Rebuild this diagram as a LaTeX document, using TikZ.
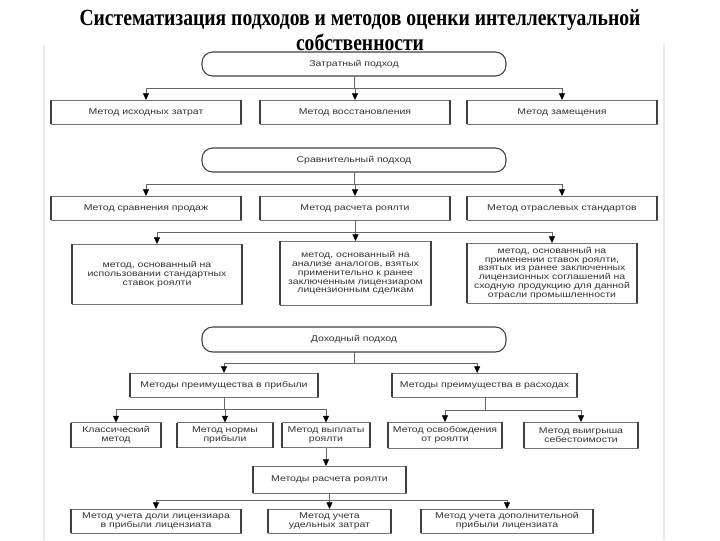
\documentclass[tikz,border=0pt]{standalone}
\usepackage{fontspec}
\setmainfont{Liberation Sans}
\newfontfamily\titlefont{Liberation Serif}[FakeStretch=0.85]
\newfontfamily\boxfont{Liberation Sans}[FakeStretch=1.25]
\usetikzlibrary{arrows.meta}
\begin{document}
\begin{tikzpicture}[x=0.75pt,y=-0.75pt,
  every node/.style={inner sep=0pt,outer sep=0pt},
  bx/.style n args={2}{draw=black!55,line width=0.45pt,
    minimum width=#1*0.75pt,minimum height=#2*0.75pt,align=center,
    font=\boxfont\fontsize{6.3}{6.6}\selectfont,text=black!80},
  rbx/.style n args={2}{bx={#1}{#2},draw=black!75,line width=0.8pt,rounded corners=8pt},
  side/.style={draw=black!75,line width=1.1pt},
  tl/.style={font=\titlefont\bfseries\fontsize{17.3}{19}\selectfont,anchor=base},
  conn/.style={draw=black!60,line width=0.55pt},
  arr/.style={conn,-{Triangle[length=5pt,width=4.5pt,color=black]}},
  frame/.style={draw=black!9}
]
\useasboundingbox (0,0) rectangle (720,540);
\fill[white] (0,0) rectangle (720,540);
\draw[frame,line width=0.8pt] (44,45) -- (44,540);
\draw[frame,line width=1.6pt] (664,45) -- (664,540);

\node[tl] (t1) at (360,25) {Систематизация подходов и методов оценки интеллектуальной};
\node[tl] (t2) at (360,50) {собственности};

% Затратный подход
\node[rbx={304}{24}] (z) at (354,64) {Затратный подход};
\node[bx={190}{24}] (z1) at (146,112) {Метод исходных затрат};
\node[bx={190}{24}] (z2) at (355,112) {Метод восстановления};
\node[bx={190}{24}] (z3) at (562,112) {Метод замещения};
\draw[conn] (z.south) -- ++(0,12) coordinate (zb);
\foreach \c in {z1,z2,z3} \draw[arr] (zb) -| (\c.north);

% Сравнительный подход
\node[rbx={304}{24}] (s) at (354,160) {Сравнительный подход};
\node[bx={190}{24}] (s1) at (146,208) {Метод сравнения продаж};
\node[bx={190}{24}] (s2) at (355,208) {Метод расчета роялти};
\node[bx={190}{24}] (s3) at (562,208) {Метод отраслевых стандартов};
\draw[conn] (s.south) -- ++(0,12) coordinate (sb);
\foreach \c in {s1,s2,s3} \draw[arr] (sb) -| (\c.north);

\node[bx={170}{60}] (r1) at (157,274) {метод, основанный на\\использовании стандартных\\ставок роялти};
\node[bx={151}{64}] (r2) at (355.5,273) {метод, основанный на\\анализе аналогов, взятых\\применительно к ранее\\заключенным лицензиаром\\лицензионным сделкам};
\node[bx={170}{60}] (r3) at (552,273) {метод, основанный на\\применении ставок роялти,\\взятых из ранее заключенных\\лицензионных соглашений на\\сходную продукцию для данной\\отрасли промышленности};
\draw[conn] (s2.south) -- ++(0,12) coordinate (s2b);
\foreach \c in {r1,r2,r3} \draw[arr] (s2b) -| (\c.north);

% Доходный подход
\node[rbx={304}{25}] (d) at (354,339.5) {Доходный подход};
\node[bx={188}{24}] (p1) at (224,385) {Методы преимущества в прибыли};
\node[bx={185}{24}] (p2) at (484.5,385) {Методы преимущества в расходах};
\draw[conn] (d.south) -- ++(0,11) coordinate (db);
\draw[arr] (db) -| (p1.north);
\draw[arr] (db) -| ([xshift=-5.5pt]p2.north);

\node[bx={90}{25}] (c1) at (116,435) {Классический\\метод};
\node[bx={96}{25}] (c2) at (225,435) {Метод нормы\\прибыли};
\node[bx={88}{25}] (c3) at (326,435) {Метод выплаты\\роялти};
\draw[conn] (p1.south) -- ++(0,12) coordinate (p1b);
\foreach \c in {c1,c2,c3} \draw[arr] (p1b) -| (\c.north);

\node[bx={114}{26}] (c4) at (445,435) {Метод освобождения\\от роялти};
\node[bx={114}{26}] (c5) at (581,435) {Метод выигрыша\\себестоимости};
\draw[conn] ([xshift=1pt]p2.south) -- ++(0,13) coordinate (p2b);
\foreach \c in {c4,c5} \draw[arr] (p2b) -| (\c.north);

\node[bx={153}{27}] (ras) at (329.5,479.5) {Методы расчета роялти};
\draw[arr] (c3.south) -- (c3.south |- ras.north);

\node[bx={170}{24}] (b1) at (156,521) {Метод учета доли лицензиара\\в прибыли лицензиата};
\node[bx={123}{24}] (b2) at (329.5,521) {Метод учета\\удельных затрат};
\node[bx={172}{24}] (b3) at (507,521) {Метод учета дополнительной\\прибыли лицензиата};
\draw[conn] (ras.south) -- ++(0,7) coordinate (rb);
\foreach \c in {b1,b2,b3} \draw[arr] (rb) -| (\c.north);

\foreach \n in {z1,z2,z3,s1,s2,s3,r1,r2,r3,p1,p2,c1,c2,c3,c4,c5,ras,b1,b2,b3}
  \draw[side] (\n.north west) -- (\n.south west) (\n.north east) -- (\n.south east);
\end{tikzpicture}
\end{document}
